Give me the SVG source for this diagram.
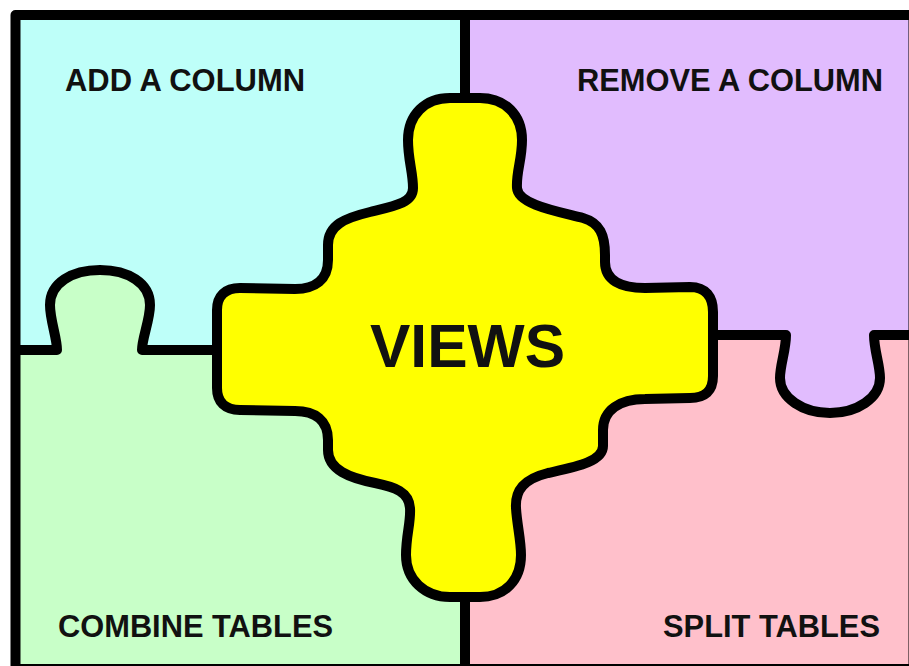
<svg xmlns="http://www.w3.org/2000/svg" width="909" height="666" viewBox="0 0 909 666">
<style>
.ln{fill:none;stroke:#000;stroke-width:10;stroke-linejoin:round;stroke-linecap:butt}
.lbl{font-family:"Liberation Sans",Arial,sans-serif;font-weight:bold;font-size:30.5px;fill:#111}
.big{font-family:"Liberation Sans",Arial,sans-serif;font-weight:bold;font-size:60.5px;fill:#111}
</style>
<rect x="0" y="0" width="909" height="666" fill="#fff"/>
<g id="add-column">
<rect x="15" y="15" width="450" height="335" fill="#BEFFF9"/>
<text class="lbl" x="65" y="91" textLength="240" lengthAdjust="spacingAndGlyphs">ADD A COLUMN</text>
</g>
<g id="remove-column">
<rect x="465" y="15" width="450" height="320" fill="#E1BCFE"/>
<path d="M786,335 C786,350 780,365 780,378 C780,398 803,413 830,413 C857,413 880,398 880,378 C880,365 874,350 874,335 Z" fill="#E1BCFE"/>
<text class="lbl" x="577" y="91" textLength="306" lengthAdjust="spacingAndGlyphs">REMOVE A COLUMN</text>
</g>
<g id="combine-tables">
<rect x="15" y="350" width="450" height="320" fill="#C8FFC8"/>
<path d="M57,350 C57,338 50,320 50,305 C50,283 72,270 100,270 C128,270 150,283 150,305 C150,320 142,338 142,350 Z" fill="#C8FFC8"/>
<text class="lbl" x="58" y="637" textLength="275" lengthAdjust="spacingAndGlyphs">COMBINE TABLES</text>
</g>
<g id="split-tables">
<rect x="465" y="335" width="450" height="335" fill="#FFC0CB"/>
<path d="M786,335 C786,350 780,365 780,378 C780,398 803,413 830,413 C857,413 880,398 880,378 C880,365 874,350 874,335 Z" fill="#E1BCFE"/>
<text class="lbl" x="663" y="637" textLength="217" lengthAdjust="spacingAndGlyphs">SPLIT TABLES</text>
</g>
<g id="connectors">
<path class="ln" d="M465,15 L465,100"/>
<path class="ln" d="M465,595 L465,670"/>
<path class="ln" d="M15,350 L57,350 C57,338 50,320 50,305 C50,283 72,270 100,270 C128,270 150,283 150,305 C150,320 142,338 142,350 L220,350"/>
<path class="ln" d="M710,335 L786,335 C786,350 780,365 780,378 C780,398 803,413 830,413 C857,413 880,398 880,378 C880,365 874,350 874,335 L915,335"/>
</g>
<g id="views">
<path class="ln" style="fill:#FFFF00" d="M450,98 L480,98 C505,98 522,115 522,140 C522,160 516,172 517,188 C518,205 560,212 583,218 C600,223 605,235 605,255 L605,262 C605,280 620,288 645,288 L690,287 C706,287 713,297 713,312 L713,376 C713,391 705,398 690,398 L645,399 C620,399 603,410 603,430 L603,446 C603,462 575,467 548,473 C524,479 515,490 516,508 C517,525 521,540 521,555 C521,580 505,597 480,597 L450,597 C425,597 406,580 406,555 C406,535 411,522 410,508 C409,492 395,487 375,483 C350,478 328,470 328,450 L328,440 C328,420 315,411 295,411 L240,410 C225,410 217,402 217,388 L217,310 C217,296 225,288 240,288 L295,289 C315,289 328,280 328,260 L328,245 C328,225 345,218 370,212 C395,206 413,203 413,188 C413,172 408,160 408,140 C408,115 425,98 450,98 Z"/>
<text class="big" x="370" y="367" textLength="195" lengthAdjust="spacingAndGlyphs">VIEWS</text>
</g>
<rect class="ln" x="15.5" y="15" width="898" height="654"/>
</svg>
